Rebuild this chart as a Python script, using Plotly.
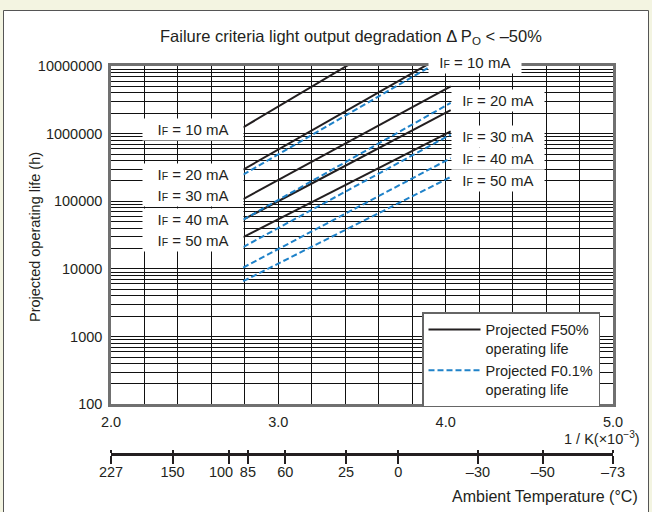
import math
import plotly.graph_objects as go

# ---------------- data ----------------
currents = ["10", "20", "30", "40", "50"]            # IF in mA
x_curve = [2.79, 4.03]                                # 1/K (x10^-3) where curves start / end
f50_start = [1.24e6, 2.94e5, 1.08e5, 5.35e4, 2.96e4]  # projected F50% life (h) at x_curve[0]
f50_end = [8.2e7, 1.65e7, 5.0e6, 2.22e6, 1.08e6]      # at x_curve[1]
f01_start = [2.48e5, 5.35e4, 2.11e4, 1.05e4, 6.6e3]   # projected F0.1% life (h) at x_curve[0]
f01_end = [1.47e7, 2.85e6, 9.7e5, 4.35e5, 2.29e5]     # at x_curve[1]

x_tickvals = [2.0, 3.0, 4.0, 5.0]
x_ticktext = ["2.0", "3.0", "4.0", "5.0"]
y_tickvals = [1e2, 1e3, 1e4, 1e5, 1e6, 1e7]
y_ticktext = ["100", "1000", "10000", "100000", "1000000", "10000000"]
temp_ticktext = ["227", "150", "100\u00a0\u00a0\u00a0\u00a0", "85", "60", "25", "0",
                 "\u201330", "\u201350", "\u201373"]
temp_tickpos = [2.0, 2.368, 2.706, 2.818, 3.041, 3.404, 3.717, 4.193, 4.580, 5.0]

left_label_x = 2.49
left_label_y = [1.15e6, 2.53e5, 1.21e5, 5.47e4, 2.61e4]
right_label_x = [4.177, 4.314, 4.314, 4.314, 4.314]
right_label_y = [1.13e7, 3.12e6, 9.04e5, 4.28e5, 2.04e5]

# ---------------- styling ----------------
FONT = "Liberation Sans, Arial, sans-serif"
TXT = "#231f20"
BLACK = "#231f20"
BLUE = "#1f82c9"
CREAM = "#f3f4e1"

W, H = 652, 512
L, R, T, B = 111, 39, 66, 59          # plot region (bottom = temperature axis line)
plot_h = H - T - B
main_bottom_px = 404.3
y_dom0 = (H - B - main_bottom_px) / plot_h
y_rng = [2, 7]


def px_x(px):
    return (px - L) / (W - L - R)


def px_y(py):
    return (H - B - py) / plot_h


def logv_to_paper(v):
    frac = (math.log10(v) - y_rng[0]) / (y_rng[1] - y_rng[0])
    return y_dom0 + frac * (1 - y_dom0)


fig = go.Figure()

for i, c in enumerate(currents):
    fig.add_trace(go.Scatter(
        x=x_curve, y=[f50_start[i], f50_end[i]], mode="lines",
        line=dict(color=BLACK, width=2),
        name="Projected F50%<br>operating life",
        legendgroup="f50", showlegend=(i == 0),
        xaxis="x", yaxis="y"))
for i, c in enumerate(currents):
    fig.add_trace(go.Scatter(
        x=x_curve, y=[f01_start[i], f01_end[i]], mode="lines",
        line=dict(color=BLUE, width=2, dash="6px,3px"),
        name="Projected F0.1%<br>operating life",
        legendgroup="f01", showlegend=(i == 0),
        xaxis="x", yaxis="y"))

# dummy trace for temperature axis subplot
fig.add_trace(go.Scatter(x=[2, 5], y=[0, 0], mode="lines", line=dict(width=0),
                         showlegend=False, hoverinfo="skip", xaxis="x2", yaxis="y2"))

minor_y = [k * 10 ** d for d in range(2, 7) for k in range(2, 10)]

annotations = []
nb = "\u00a0"
LBL = dict(family=FONT, size=15, color=TXT)


def if_label(c):
    return f"I<span style='font-size:10.5px'>F</span> = {c} mA"


for i, c in enumerate(currents):
    annotations.append(dict(
        x=left_label_x, y=logv_to_paper(left_label_y[i]), xref="x", yref="paper",
        xanchor="center", yanchor="middle",
        text=nb * 3 + if_label(c) + nb * 3, showarrow=False, bgcolor="white",
        borderpad=2, font=LBL))
    annotations.append(dict(
        x=right_label_x[i], y=logv_to_paper(right_label_y[i]), xref="x", yref="paper",
        xanchor="center", yanchor="middle",
        text=nb * 2 + if_label(c) + nb * 2, showarrow=False, bgcolor="white",
        borderpad=2, font=LBL))

annotations += [
    dict(x=px_x(351), y=px_y(37), xref="paper", yref="paper", showarrow=False,
         xanchor="center", yanchor="middle",
         text="Failure criteria light output degradation \u0394 P<sub>O</sub> < \u201350%",
         font=dict(family=FONT, size=16.5, color=TXT)),
    dict(x=px_x(35), y=px_y(237), xref="paper", yref="paper", showarrow=False,
         xanchor="center", yanchor="middle",
         text="Projected operating life (h)", textangle=-90,
         font=dict(family=FONT, size=14.5, color=TXT)),
    dict(x=px_x(642), y=px_y(438), xref="paper", yref="paper", showarrow=False,
         xanchor="right", yanchor="middle", text="1 / K(\u00d710<sup>\u22123</sup>)",
         font=dict(family=FONT, size=14.5, color=TXT)),
    dict(x=px_x(640), y=px_y(497), xref="paper", yref="paper", showarrow=False,
         xanchor="right", yanchor="middle", text="Ambient Temperature (\u00b0C)",
         font=dict(family=FONT, size=16, color=TXT)),
]

shapes = [dict(type="rect", xref="paper", yref="paper", layer="below",
               x0=px_x(3.5), x1=px_x(648.5), y0=px_y(520), y1=px_y(10.5),
               fillcolor="white", line=dict(color="#555555", width=1))]

TICKF = dict(family=FONT, size=14.5, color=TXT)

fig.update_layout(
    width=W, height=H,
    margin=dict(l=L, r=R, t=T, b=B, pad=0),
    paper_bgcolor=CREAM, plot_bgcolor="white",
    font=dict(family=FONT, size=14, color=TXT),
    showlegend=True,
    legend=dict(x=px_x(422), y=px_y(312), xanchor="left", yanchor="top",
                bgcolor="white", bordercolor="#666666", borderwidth=1.5,
                font=dict(family=FONT, size=14.5, color=TXT), valign="top",
                tracegroupgap=0, itemwidth=52),
    xaxis=dict(domain=[0, 1], anchor="y", range=[2, 5], tickmode="array",
               tickvals=x_tickvals, ticktext=x_ticktext, ticks="outside",
               ticklen=3, tickcolor="rgba(0,0,0,0)",
               showgrid=True, gridcolor="#111111", gridwidth=1,
               minor=dict(tickmode="linear", tick0=2, dtick=0.2, showgrid=True,
                          gridcolor="#111111", gridwidth=1, ticks=""),
               showline=True, mirror=True, linecolor="#707070", linewidth=2.5,
               zeroline=False, tickfont=TICKF, tickangle=0),
    yaxis=dict(domain=[y_dom0, 1], anchor="x", type="log", range=y_rng,
               tickmode="array", tickvals=y_tickvals, ticktext=y_ticktext,
               ticks="outside", ticklen=3, tickcolor="rgba(0,0,0,0)",
               showgrid=True, gridcolor="#111111", gridwidth=1,
               minor=dict(tickmode="array", tickvals=minor_y, showgrid=True,
                          gridcolor="#111111", gridwidth=1, ticks=""),
               showline=True, mirror=True, linecolor="#707070", linewidth=2.5,
               zeroline=False, tickfont=TICKF),
    xaxis2=dict(domain=[0, 1], anchor="y2", range=[2, 5], matches="x",
                tickmode="array", tickvals=temp_tickpos, ticktext=temp_ticktext,
                ticks="outside", ticklen=8, tickwidth=2, tickcolor=BLACK,
                ticklabelstandoff=-4,
                minor=dict(tickmode="array", tickvals=temp_tickpos, ticks="inside",
                           ticklen=3, tickwidth=2, tickcolor=BLACK, showgrid=False),
                showgrid=False, showline=True, linecolor=BLACK, linewidth=2.5,
                zeroline=False, tickfont=TICKF, tickangle=0),
    yaxis2=dict(domain=[0, 0.002], anchor="x2", visible=False, range=[0, 1]),
    annotations=annotations,
    shapes=shapes,
)

fig.write_html(
    "out.html",
    config={"displayModeBar": False},
    post_script=("document.body.style.margin='0px';"
                 "document.body.style.padding='0px';"
                 f"document.body.style.background='{CREAM}';"),
)
